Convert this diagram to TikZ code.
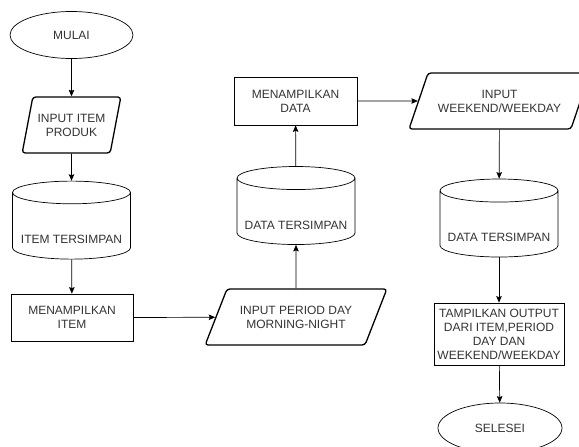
\documentclass[tikz,border=0pt]{standalone}
\usepackage{fontspec}
\setmainfont{Liberation Sans}
\usepackage{tikz}
\usetikzlibrary{shapes.geometric, shapes.symbols, arrows.meta, positioning}
\definecolor{flowtext}{HTML}{333333}

\begin{document}
\begin{tikzpicture}[
    x=1pt, y=-1pt,
    every node/.style={font=\fontsize{12pt}{14pt}\selectfont, text=flowtext, align=center, inner sep=1pt},
    terminal/.style={draw, ellipse, line width=0.7pt, minimum width=123pt, minimum height=47pt},
    inputbox/.style={draw, trapezium, trapezium stretches=true, rounded corners=3pt, line width=1.3pt, minimum height=56pt, inner xsep=0pt},
    storage/.style={draw, cylinder, shape border rotate=90, aspect=0.22, line width=0.7pt, minimum width=118pt, minimum height=78pt, text height=36pt, text depth=3pt},
    process/.style={draw, rectangle, line width=0.7pt},
    flow/.style={-{Stealth[length=6.5pt, width=5.5pt, inset=1pt]}, line width=0.7pt}
]
    \useasboundingbox (0,0) rectangle (579,447);
    \clip (0,0) rectangle (579,447);

    % Left column
    \node[terminal] (mulai) at (71.5,35) {MULAI};
    \node[inputbox, trapezium left angle=69, trapezium right angle=111, minimum width=99pt] (inItem) at (71.5,125) {INPUT ITEM\\PRODUK};
    \node[storage] (itemDb) at (71.5,227) {ITEM TERSIMPAN};
    \node[process, minimum width=122pt, minimum height=47pt] (showItem) at (72,317.5) {MENAMPILKAN\\ITEM};

    % Middle column
    \node[inputbox, trapezium left angle=54, trapezium right angle=126, minimum width=182pt] (inPeriod) at (296,317) {INPUT PERIOD DAY\\MORNING-NIGHT};
    \node[storage] (dataDb) at (296,212.5) {DATA TERSIMPAN};
    \node[process, minimum width=123pt, minimum height=48pt] (showData) at (295.5,101) {MENAMPILKAN\\DATA};

    % Right column
    \node[inputbox, trapezium left angle=56, trapezium right angle=124, minimum width=181pt] (inWeekend) at (499.5,101) {INPUT\\WEEKEND/WEEKDAY};
    \node[storage] (dataDbB) at (499,225) {DATA TERSIMPAN};
    \node[process, minimum width=130pt, minimum height=62pt, inner sep=0pt] (showOutput) at (499,334) {TAMPILKAN OUTPUT\\DARI ITEM,PERIOD\\DAY DAN\\WEEKEND/WEEKDAY};
    \node[terminal, minimum width=124pt, minimum height=50pt] (selesei) at (500,428) {SELESEI};

    % Connectors
    \draw[flow] (mulai) -- (inItem);
    \draw[flow] (inItem) -- (itemDb);
    \draw[flow] (itemDb) -- (showItem);
    \draw[flow] (showItem.east) -- (inPeriod);
    \draw[flow] (inPeriod) -- (dataDb);
    \draw[flow] (dataDb) -- (showData);
    \draw[flow] (showData.east) -- (inWeekend);
    \draw[flow] (inWeekend) -- (dataDbB);
    \draw[flow] (dataDbB) -- (showOutput);
    \draw[flow] (showOutput) -- (selesei);
\end{tikzpicture}
\end{document}
